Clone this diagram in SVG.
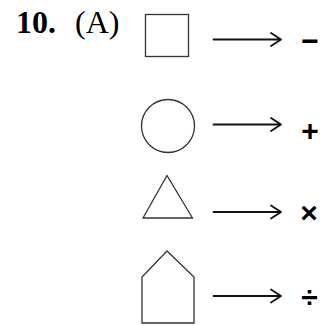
<svg xmlns="http://www.w3.org/2000/svg" width="320" height="325" viewBox="0 0 320 325">
<defs>
<style>
.shape{fill:none;stroke:#333;stroke-width:1.3}
.arr{fill:none;stroke:#111;stroke-width:1.8;stroke-linecap:round;stroke-linejoin:round}
.op{font-family:"Liberation Sans",Arial,sans-serif;font-size:30px;font-weight:bold;fill:#000;text-anchor:middle}
.lbl{font-family:"Liberation Serif","Times New Roman",serif;font-size:32px;fill:#000}
</style>
</defs>
<rect width="320" height="325" fill="#fff"/>
<g id="label">
<text class="lbl" x="16" y="33" font-weight="bold">10.</text>
<text class="lbl" x="75" y="33">(A)</text>
</g>
<g id="square"><rect class="shape" x="145.5" y="14.5" width="43" height="42"/></g>
<g id="circle"><circle class="shape" cx="168" cy="126" r="26.5"/></g>
<g id="triangle"><polygon class="shape" points="167,175.5 143,218 192.5,218"/></g>
<g id="pentagon"><polygon class="shape" points="167,251 142,277 142,323 194,323 194,277"/></g>
<g id="ops">
<text class="op" x="310" y="50.5">−</text>
<text class="op" x="310" y="141">+</text>
<text class="op" x="309" y="223">×</text>
<text class="op" x="309.5" y="307">÷</text>
</g>
<g id="connectors">
<path class="arr" d="M213.5,39.5 H281 M271,33 L281,39.5 L271,46"/>
<path class="arr" d="M213.5,124.5 H281 M271,118 L281,124.5 L271,131"/>
<path class="arr" d="M213.5,212 H281 M271,205.5 L281,212 L271,218.5"/>
<path class="arr" d="M213.5,296 H281 M271,289.5 L281,296 L271,302.5"/>
</g>
</svg>
